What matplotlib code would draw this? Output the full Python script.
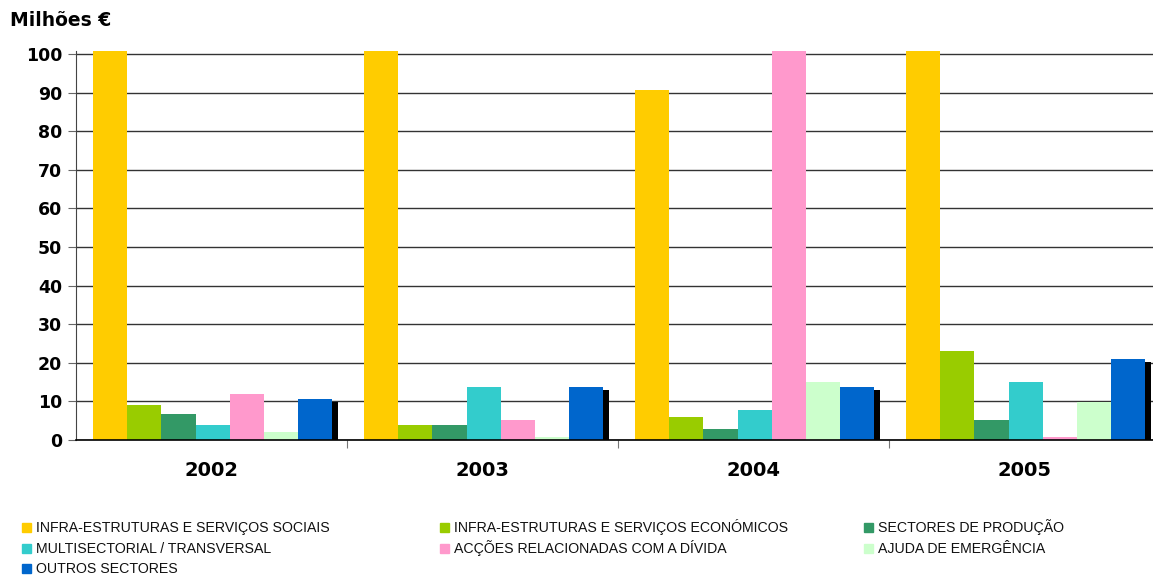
import matplotlib.pyplot as plt
from matplotlib.patches import Rectangle

# ---------- DATA ----------
years = ["2002", "2003", "2004", "2005"]
sectors = [
    "INFRA-ESTRUTURAS E SERVIÇOS SOCIAIS",
    "INFRA-ESTRUTURAS E SERVIÇOS ECONÓMICOS",
    "SECTORES DE PRODUÇÃO",
    "MULTISECTORIAL / TRANSVERSAL",
    "ACÇÕES RELACIONADAS COM A DÍVIDA",
    "AJUDA DE EMERGÊNCIA",
    "OUTROS SECTORES",
]
colors = ["#FFCC00", "#99CC00", "#339966", "#33CCCC", "#FF99CC", "#CCFFCC", "#0066CC"]

# million euro per sector, one list per sector (2002..2005)
sociais = [101, 101, 90.7, 101]
economicos = [9.1, 3.9, 6.0, 23.0]
producao = [6.8, 3.9, 2.9, 5.2]
multisectorial = [3.9, 13.8, 7.8, 15.1]
divida = [12.0, 5.2, 101, 0.8]
emergencia = [2.1, 0.8, 15.1, 9.9]
outros = [10.7, 13.8, 13.8, 21.1]
series = [sociais, economicos, producao, multisectorial, divida, emergencia, outros]

# ---------- FIGURE ----------
W, H = 1153, 576
fig = plt.figure(figsize=(W / 100, H / 100), dpi=100)
ax = fig.add_axes([76 / W, (H - 440) / H, 1077 / W, 389 / H])

group_px = 271.0
offset = 17 / group_px
bar_w = 34.2 / group_px
shadow_dx = 6 / group_px

for k, (vals, col) in enumerate(zip(series, colors)):
    xs = [i + offset + k * bar_w for i in range(len(years))]
    ax.bar(xs, vals, width=bar_w, align="edge", color=col, zorder=3, linewidth=0)
    if k == len(series) - 1:
        # drop shadow behind the last series
        ax.bar([x + shadow_dx for x in xs], [v - 0.8 for v in vals], width=bar_w,
               align="edge", color="black", zorder=2, linewidth=0)

ax.set_xlim(0, 1077 / group_px)
ax.set_ylim(0, 100.8)

# ---------- AXES STYLE ----------
ax.set_yticks(range(0, 101, 10))
ax.yaxis.grid(True, color="#333333", linewidth=1.0, zorder=1)
ax.set_axisbelow(True)
for s in ["top", "right"]:
    ax.spines[s].set_visible(False)
ax.spines["left"].set_color("#444444")
ax.spines["bottom"].set_color("black")
ax.spines["bottom"].set_linewidth(1.2)
ax.spines["bottom"].set_zorder(5)

ax.tick_params(axis="y", length=6, color="#666666", pad=4)
for lbl in ax.get_yticklabels():
    lbl.set_fontsize(12.5)
    lbl.set_fontweight("bold")
    lbl.set_family("DejaVu Sans")

ax.set_xticks([1, 2, 3])
ax.set_xticklabels([])
ax.tick_params(axis="x", which="major", length=6, color="#777777")
ax.set_xticks([i + 0.5 for i in range(len(years))], minor=True)
ax.set_xticklabels(years, minor=True, fontsize=14, fontweight="bold")
ax.tick_params(axis="x", which="minor", length=0, pad=15)

fig.text(10 / W, 1 - 21 / H, "Milhões €", fontsize=13.5, fontweight="bold",
         va="center", ha="left")

# ---------- LEGEND ----------
col_x = [22, 440, 864]
row_y = [527, 548, 568]
for i, (name, col) in enumerate(zip(sectors, colors)):
    cx = col_x[i % 3]
    cy = row_y[i // 3]
    fig.patches.append(Rectangle((cx / W, 1 - (cy + 4.5) / H), 9 / W, 9 / H,
                                 transform=fig.transFigure, color=col))
    fig.text((cx + 14) / W, 1 - (cy + 5) / H, name, fontsize=10.2, va="baseline",
             ha="left", color="#111111", family="Liberation Sans")

fig.savefig("out.png", dpi=100)
